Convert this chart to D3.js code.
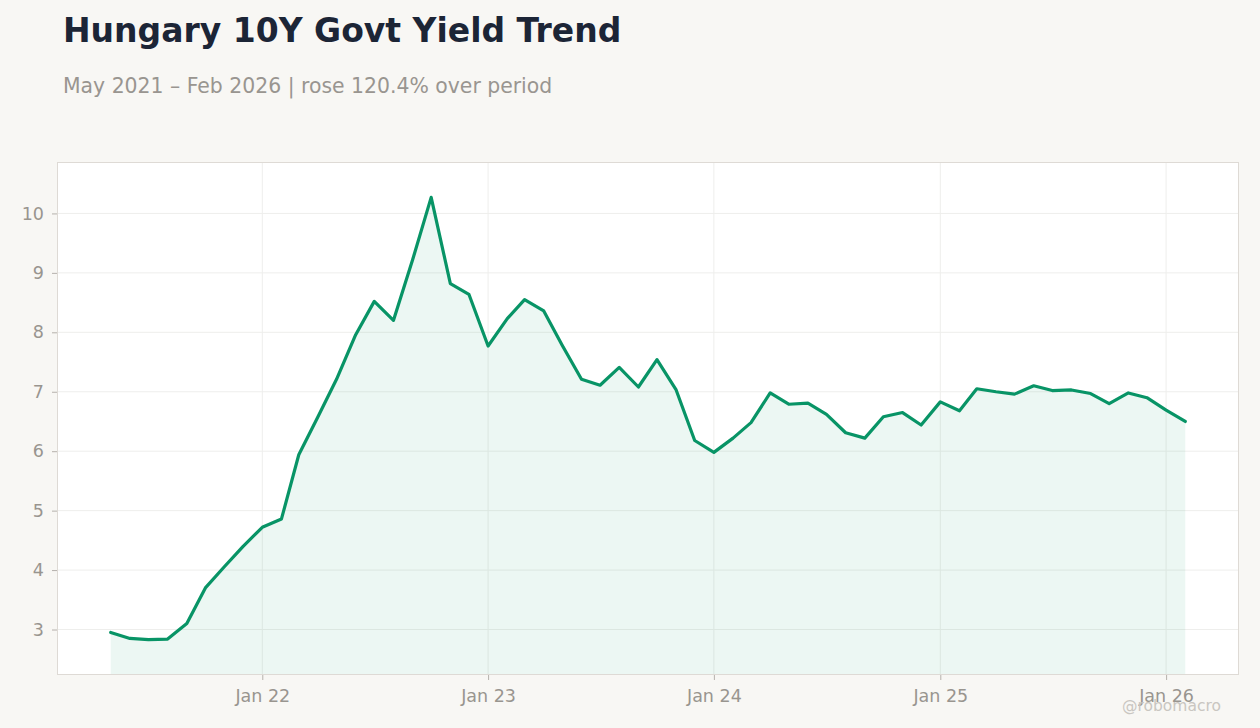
<!DOCTYPE html>
<html>
<head>
<meta charset="utf-8">
<script src="https://cdn.jsdelivr.net/npm/d3@7"></script>
<style>
  html, body { margin: 0; padding: 0; background: #f8f7f4; }
  svg { display: block; font-family: "DejaVu Sans", sans-serif; }
</style>
</head>
<body>
<svg id="chart" width="1260" height="728"></svg>
<script>
// monthly observations, May 2021 – Feb 2026
const months = [
  "2021-05", "2021-06", "2021-07", "2021-08", "2021-09", "2021-10", "2021-11", "2021-12",
  "2022-01", "2022-02", "2022-03", "2022-04", "2022-05", "2022-06", "2022-07", "2022-08",
  "2022-09", "2022-10", "2022-11", "2022-12",
  "2023-01", "2023-02", "2023-03", "2023-04", "2023-05", "2023-06", "2023-07", "2023-08",
  "2023-09", "2023-10", "2023-11", "2023-12",
  "2024-01", "2024-02", "2024-03", "2024-04", "2024-05", "2024-06", "2024-07", "2024-08",
  "2024-09", "2024-10", "2024-11", "2024-12",
  "2025-01", "2025-02", "2025-03", "2025-04", "2025-05", "2025-06", "2025-07", "2025-08",
  "2025-09", "2025-10", "2025-11", "2025-12",
  "2026-01", "2026-02"
];
const yields = [
  2.95, 2.85, 2.83, 2.84, 3.10, 3.70, 4.06, 4.40,
  4.72, 4.86, 5.94, 6.58, 7.21, 7.96, 8.52, 8.20,
  9.22, 10.27, 8.82, 8.64,
  7.77, 8.23, 8.55, 8.36, 7.78, 7.21, 7.11, 7.41,
  7.08, 7.54, 7.03, 6.18,
  5.98, 6.22, 6.48, 6.98, 6.79, 6.81, 6.62, 6.31,
  6.22, 6.58, 6.65, 6.44,
  6.83, 6.68, 7.05, 7.00, 6.96, 7.10, 7.02, 7.03,
  6.97, 6.80, 6.98, 6.90,
  6.69, 6.50
];
const yTicks = [3, 4, 5, 6, 7, 8, 9, 10];
const xTickDates = ["2022-01", "2023-01", "2024-01", "2025-01", "2026-01"];

const parse = d3.timeParse("%Y-%m");
const data = months.map((m, i) => ({ date: parse(m), value: yields[i] }));

const svg = d3.select("#chart");
const plot = { left: 57, top: 162, right: 1239, bottom: 675 };

// title block
svg.append("text")
  .attr("x", 63).attr("y", 42)
  .attr("font-size", 33).attr("font-weight", "bold")
  .attr("fill", "#1c2536")
  .text("Hungary 10Y Govt Yield Trend");
svg.append("text")
  .attr("x", 63).attr("y", 93)
  .attr("font-size", 20.4)
  .attr("fill", "#999590")
  .text("May 2021 – Feb 2026 | rose 120.4% over period");

// scales with a little breathing room on both axes
const [d0, d1] = d3.extent(data, (d) => d.date);
const span = d1 - d0;
const x = d3.scaleTime()
  .domain([new Date(+d0 - span * 0.05), new Date(+d1 + span * 0.05)])
  .range([plot.left, plot.right]);
const [vMin, vMax] = d3.extent(yields);
const vPad = (vMax - vMin) * 0.08;
const y = d3.scaleLinear()
  .domain([vMin - vPad, vMax + vPad])
  .range([plot.bottom, plot.top]);

svg.append("rect")
  .attr("x", plot.left).attr("y", plot.top)
  .attr("width", plot.right - plot.left).attr("height", plot.bottom - plot.top)
  .attr("fill", "#ffffff");

// grid
const grid = svg.append("g");
grid.selectAll("line.h").data(yTicks).join("line")
  .attr("x1", plot.left).attr("x2", plot.right)
  .attr("y1", (d) => y(d)).attr("y2", (d) => y(d))
  .attr("stroke", "#eeeeec").attr("stroke-width", 1);
grid.selectAll("line.v").data(xTickDates.map(parse)).join("line")
  .attr("y1", plot.top).attr("y2", plot.bottom)
  .attr("x1", (d) => x(d)).attr("x2", (d) => x(d))
  .attr("stroke", "#eeeeec").attr("stroke-width", 1);

// area + line
const area = d3.area()
  .x((d) => x(d.date))
  .y0(plot.bottom)
  .y1((d) => y(d.value));
const line = d3.line()
  .x((d) => x(d.date))
  .y((d) => y(d.value));

svg.append("path")
  .datum(data)
  .attr("d", area)
  .attr("fill", "rgba(8, 148, 102, 0.08)");
svg.append("path")
  .datum(data)
  .attr("d", line)
  .attr("fill", "none")
  .attr("stroke", "#089466")
  .attr("stroke-width", 3.2)
  .attr("stroke-linejoin", "round")
  .attr("stroke-linecap", "round");

// frame
svg.append("rect")
  .attr("x", plot.left + 0.5).attr("y", plot.top + 0.5)
  .attr("width", plot.right - plot.left - 1).attr("height", plot.bottom - plot.top - 1)
  .attr("fill", "none")
  .attr("stroke", "#dedad5");

// axes
const yAxis = svg.append("g")
  .attr("transform", `translate(${plot.left},0)`)
  .call(d3.axisLeft(y).tickValues(yTicks).tickSize(5).tickPadding(8).tickFormat(d3.format("d")));
const xAxis = svg.append("g")
  .attr("transform", `translate(0,${plot.bottom})`)
  .call(d3.axisBottom(x).tickValues(xTickDates.map(parse)).tickSize(5).tickPadding(10)
    .tickFormat(d3.timeFormat("%b %y")));
[yAxis, xAxis].forEach((g) => {
  g.select(".domain").remove();
  g.selectAll(".tick line").attr("stroke", "#b5b1ac");
  g.selectAll(".tick text")
    .attr("fill", "#99958f")
    .attr("font-size", 17.5)
    .attr("font-family", "DejaVu Sans, sans-serif");
});

// watermark
svg.append("text")
  .attr("x", 1221).attr("y", 711)
  .attr("text-anchor", "end")
  .attr("font-size", 15.5)
  .attr("fill", "#c9c6c1")
  .text("@robomacro");
</script>
</body>
</html>
